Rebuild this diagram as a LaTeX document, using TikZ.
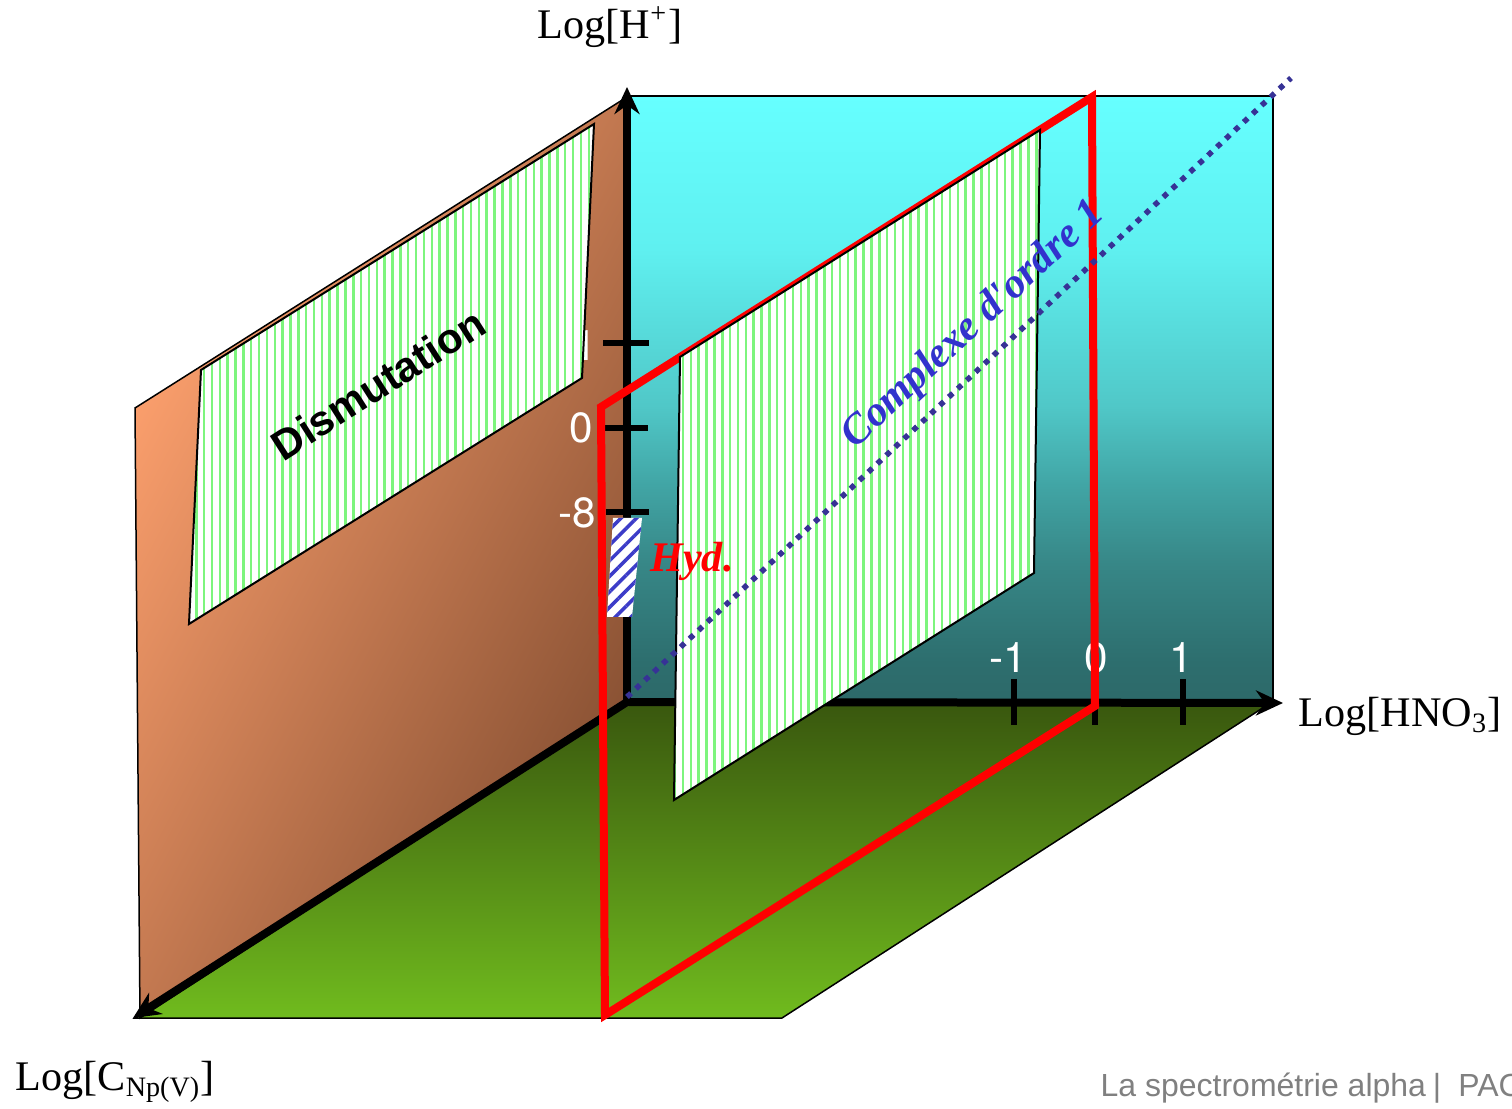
\documentclass[tikz,border=0pt]{standalone}
\usepackage{fontspec}
\setmainfont{Liberation Serif}
\setsansfont{Liberation Sans}
\newfontfamily\numfont{TeX Gyre Heros}
\usetikzlibrary{arrows.meta, patterns.meta}
\definecolor{floordark}{RGB}{57,87,14}
\definecolor{floorlight}{RGB}{112,187,30}
\definecolor{brownlight}{RGB}{250,158,108}
\definecolor{browndark}{RGB}{138,82,52}
\definecolor{stripe}{RGB}{125,245,125}
\definecolor{hatchblue}{RGB}{60,60,200}
\definecolor{dotblue}{RGB}{55,50,150}
\definecolor{textblue}{RGB}{50,50,205}
\pgfdeclareverticalshading{cyanwall}{100bp}{rgb(0bp)=(.176,.412,.412); rgb(25bp)=(.176,.412,.412);
    rgb(28.2bp)=(.176,.431,.431); rgb(36.4bp)=(.216,.529,.529); rgb(42.9bp)=(.255,.647,.647);
    rgb(49.5bp)=(.314,.784,.784); rgb(62.4bp)=(.373,.941,.941); rgb(75bp)=(.4,1,1); rgb(100bp)=(.4,1,1)}
\begin{document}
\begin{tikzpicture}[
    axis/.style={-{Stealth[length=0.27cm,width=0.25cm]}, line width=0.08cm},
    tick/.style={line width=0.06cm},
    num/.style={font=\fontsize{12}{14}\selectfont\numfont, text=white, inner sep=0pt},
    axlabel/.style={font=\fontsize{12}{14}\selectfont, inner sep=0pt},
    striped/.style={draw=black, line width=0.02cm, preaction={fill=white},
        pattern={Lines[angle=90, distance=0.0785cm, line width=0.025cm]}, pattern color=stripe},
    tag/.style={font=\fontsize{12}{14}\selectfont\bfseries\itshape, inner sep=0pt}
]
\useasboundingbox (0,0) rectangle (15.12,11.08);

% fonds
\shade[shading=cyanwall, draw=black, line width=0.015cm]
    (6.27,4.06) rectangle (12.73,10.12);
\fill[top color=floordark, bottom color=floorlight, draw=black, line width=0.015cm]
    (6.27,4.06) -- (12.72,4.06) -- (7.82,0.90) -- (1.35,0.90) -- cycle;
\begin{scope}
\clip (1.35,7.00) -- (6.27,10.11) -- (6.27,4.06) -- (1.40,0.90) -- cycle;
\fill[left color=brownlight, right color=browndark, transform canvas={rotate around={-28:(1.35,7.00)}}]
    (1.35,-3) rectangle (7.07,17);
\end{scope}
\draw[line width=0.015cm] (1.35,7.00) -- (6.27,10.11) -- (6.27,4.06) -- (1.40,0.90) -- cycle;

% axes
\coordinate (origin) at (6.27,4.06);
\coordinate (htip) at (6.27,10.21);
\coordinate (nitric) at (12.83,4.05);
\coordinate (conc) at (1.33,0.90);
\draw[axis] (origin) -- (htip);
\draw[axis] (origin) -- (nitric);
\draw[axis] (origin) -- (conc);

% graduations
\draw[tick] (6.03,7.65) -- (6.49,7.65);
\draw[tick] (6.05,6.80) -- (6.48,6.80);
\draw[tick] (6.06,5.96) -- (6.49,5.96);
\foreach \x in {10.14,10.95,11.83}
    \draw[tick] (\x,4.29) -- (\x,3.83);
\node[num] (h1) at (5.85,7.62) {1};
\node[num] (h0) at (5.81,6.80) {0};
\node[num] (hm8) at (5.77,5.95) {-8};
\node[num] (nm1) at (10.08,4.50) {-1};
\node[num] (n0) at (10.96,4.50) {0};
\node[num] (n1) at (11.81,4.50) {1};

% Dismutation
\draw[striped] (2.01,7.38) -- (5.94,9.84) -- (5.82,7.30) -- (1.89,4.84) -- cycle;
\node[font=\fontsize{12}{14}\selectfont\sffamily\bfseries, rotate=32.5, inner sep=0pt] (dism) at (3.78,7.24) {Dismutation};

% Hydrolyse
\fill[white] (6.13,5.90) -- (6.42,5.90) -- (6.32,4.91) -- (6.07,4.91) -- cycle;
\fill[pattern={Lines[angle=45, distance=0.11cm, line width=0.035cm]}, pattern color=hatchblue]
    (6.13,5.90) -- (6.42,5.90) -- (6.32,4.91) -- (6.07,4.91) -- cycle;

% plan rouge
\draw[red, line width=0.08cm, miter limit=10]
    (6.01,7.01) -- (10.92,10.11) -- (10.95,4.02) -- (6.05,0.93) -- cycle;

% Complexe
\draw[striped] (6.80,7.51) -- (10.40,9.78) -- (10.34,5.35) -- (6.74,3.08) -- cycle;

% droite pointillee
\coordinate (dotstart) at (6.27,4.11);
\coordinate (dotend) at (12.91,10.30);
\draw[dotblue, line width=0.055cm, dash pattern=on 0.055cm off 0.0672cm] (dotstart) -- (dotend);

\node[tag, text=red] (hyd) at (6.92,5.47) {Hyd.};
\node[tag, text=textblue, rotate=43] (order) at (9.74,7.83) {Complexe d\textquotesingle ordre 1};

% titres des axes
\node[axlabel] (lh) at (6.10,10.81) {Log[H\textsuperscript{+}]};
\node[axlabel, anchor=west] (lhno) at (12.98,3.92) {Log[HNO\textsubscript{3}]};
\node[axlabel, anchor=west] (lnp) at (0.15,0.26) {Log[C\textsubscript{Np(V)}]};

\node[font=\fontsize{9.1}{11}\selectfont\sffamily, text=black!50, anchor=west, inner sep=0pt] (foot) at (11.00,0.20)
    {La spectrométrie alpha\hspace{0.07cm}|\hspace{0.17cm}PAC};
\end{tikzpicture}
\end{document}
